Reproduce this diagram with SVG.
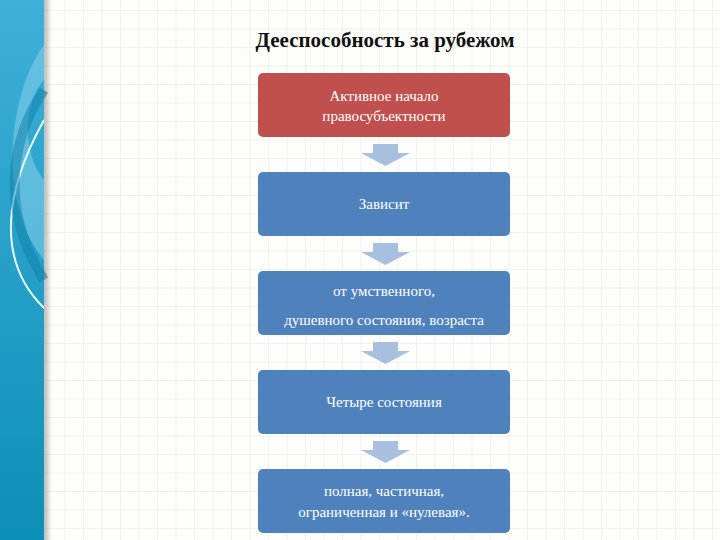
<svg xmlns="http://www.w3.org/2000/svg" width="720" height="540" viewBox="0 0 720 540">
<defs>
<linearGradient id="band" x1="0" y1="0" x2="0" y2="1"><stop offset="0" stop-color="#3fb0d9"/><stop offset="1" stop-color="#0c8fb8"/></linearGradient>
<linearGradient id="shade" x1="0" y1="0" x2="1" y2="0"><stop offset="0" stop-color="#000" stop-opacity="0.25"/><stop offset="1" stop-color="#000" stop-opacity="0"/></linearGradient>
<pattern id="grid" width="18.5" height="18.5" patternUnits="userSpaceOnUse" x="46" y="10"><path d="M0 0H18.5M0 0V18.5" fill="none" stroke="#e6e8e3" stroke-width="1"/></pattern>
<style>
.box{stroke:none}
.t{font-family:"Liberation Serif",serif;font-size:15px;fill:#fff;text-anchor:middle}
.arr{fill:#a9bfdf}
</style>
</defs>
<rect width="720" height="540" fill="#fdfdfb"/>
<rect x="44" width="676" height="540" fill="url(#grid)"/>
<rect width="44" height="540" fill="url(#band)"/>
<path d="M44 45 C10 90 -5 200 44 260 L44 180 C20 150 25 100 44 80Z" fill="#8fd3ec" opacity="0.5"/>
<path d="M44 120 C5 190 -5 260 44 308" fill="none" stroke="#e8fbff" stroke-width="2"/>
<path d="M44 90 C10 140 0 210 44 280" fill="none" stroke="#0b7fa6" stroke-width="10" opacity="0.5"/>
<rect x="44" width="8" height="540" fill="url(#shade)"/>
<text x="385" y="47" font-family="Liberation Serif,serif" font-size="21" font-weight="bold" text-anchor="middle" fill="#111">Дееспособность за рубежом</text>
<g id="connectors">
<path class="arr" d="M373 144H398V153H410L385.5 166L361 153H373Z"/>
<path class="arr" d="M373 243H398V252H410L385.5 265L361 252H373Z"/>
<path class="arr" d="M373 342H398V351H410L385.5 364L361 351H373Z"/>
<path class="arr" d="M373 441H398V450H410L385.5 463L361 450H373Z"/>
</g>
<g id="n1"><rect class="box" x="258" y="73" width="252" height="64" rx="5" fill="#c0504d"/><text class="t" x="384" y="101">Активное начало</text><text class="t" x="384" y="121">правосубъектности</text></g>
<g id="n2"><rect class="box" x="258" y="172" width="252" height="64" rx="5" fill="#4f81bd"/><text class="t" x="384" y="209">Зависит</text></g>
<g id="n3"><rect class="box" x="258" y="271" width="252" height="64" rx="5" fill="#4f81bd"/><text class="t" x="384" y="296">от умственного,</text><text class="t" x="384" y="325">душевного состояния, возраста</text></g>
<g id="n4"><rect class="box" x="258" y="370" width="252" height="64" rx="5" fill="#4f81bd"/><text class="t" x="384" y="407">Четыре состояния</text></g>
<g id="n5"><rect class="box" x="258" y="469" width="252" height="64" rx="5" fill="#4f81bd"/><text class="t" x="384" y="496">полная, частичная,</text><text class="t" x="384" y="517">ограниченная и «нулевая».</text></g>
</svg>
